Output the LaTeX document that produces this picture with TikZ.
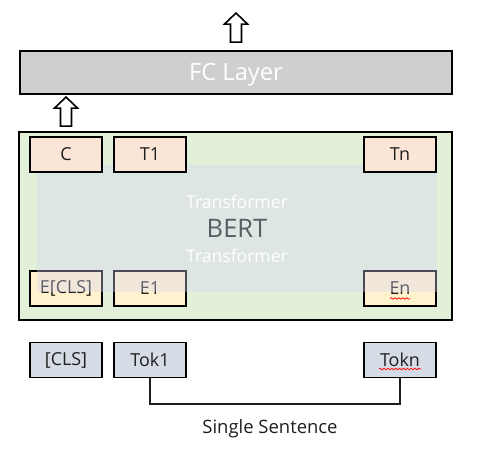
\documentclass[tikz,border=0pt]{standalone}
\usepackage{fontspec}
\setmainfont{Open Sans}
\usetikzlibrary{calc,decorations.pathmorphing}
\definecolor{vertbert}{RGB}{226,240,217}
\definecolor{saumon}{RGB}{251,229,214}
\definecolor{jaune}{RGB}{255,242,204}
\definecolor{bleugris}{RGB}{214,220,229}
\definecolor{grisfc}{RGB}{208,206,206}
\definecolor{voile}{RGB}{215,214,248}
\definecolor{texte}{RGB}{30,30,30}
\definecolor{grisbert}{RGB}{88,94,100}

\begin{document}
\begin{tikzpicture}[x=0.02cm,y=-0.02cm]
    \tikzstyle{lien}=[line width=1pt,texte]
    \tikzstyle{fleche}=[line width=0.9pt,fill=white,line join=miter]
    \tikzstyle{souligne}=[red,line width=0.4pt,decorate,decoration={snake,amplitude=0.45pt,segment length=2.2pt}]
\tikzset{boite/.style={draw,line width=1.1pt,fill=#1,text=texte,
minimum width=1.44cm,minimum height=0.70cm,inner sep=0pt,font=\fontsize{10.2}{12}\selectfont},
boite/.default={white}}
\tikzset{pics/flechehaut/.style={code={
\draw[fleche] (-5.5,0) -- (-5.5,-18) -- (-11.5,-18) -- (0,-29) -- (11.5,-18) -- (5.5,-18) -- (5.5,0) -- cycle;}}}
\useasboundingbox (0,0) rectangle (493,457);

\node[draw,line width=1.1pt,fill=grisfc,minimum width=8.64cm,minimum height=0.86cm] (fc) at (236,72.5){};
\node[text=white,font=\fontsize{13.5}{16}\selectfont] (fclbl) at (236,75){FC Layer};
\node[draw,line width=1.1pt,fill=vertbert,minimum width=8.66cm,minimum height=3.76cm] (bert) at (235.5,226){};

\node[boite=jaune] (ecls) at (66,288.5){E[CLS]};
\node[boite=jaune] (e1) at (150,288.5){E1};
\node[boite=jaune] (en) at (400,288.5){En};
\draw[souligne] ($(en.center)+(-10,10)$) -- ++(20,0);

\node[fill=voile,fill opacity=0.35,minimum width=8cm,minimum height=2.54cm,inner sep=0pt] (voile) at (237,228.5){};
\node[text=white,font=\fontsize{10}{12}\selectfont] (trhaut) at (237,202){Transformer};
\node[text=grisbert,font=\fontsize{14.5}{17}\selectfont] (bertlbl) at (237,228){BERT};
\node[text=white,font=\fontsize{10}{12}\selectfont] (trbas) at (237,256){Transformer};

\node[boite=saumon] (c) at (66,154.5){C};
\node[boite=saumon] (t1) at (150,154.5){T1};
\node[boite=saumon] (tn) at (400,154.5){Tn};

\node[boite=bleugris] (cls) at (66,360){[CLS]};
\node[boite=bleugris] (tok1) at (150,360){Tok1};
\node[boite=bleugris] (tokn) at (400,360){Tokn};
\draw[souligne] ($(tokn.center)+(-21,9)$) -- ++(42,0);

\coordinate (phrase) at (275,404);
\draw[lien] (tok1.south) |- (phrase) -| (tokn.south);
\node[text=texte,font=\fontsize{10.5}{13}\selectfont] (single) at (270,428.5){Single Sentence};

\pic at ($(bert.north -| c.north)+(0,-5)$) {flechehaut};
\pic at ($(fc.north)+(0,-8)$) {flechehaut};

  \end{tikzpicture}
\end{document}
